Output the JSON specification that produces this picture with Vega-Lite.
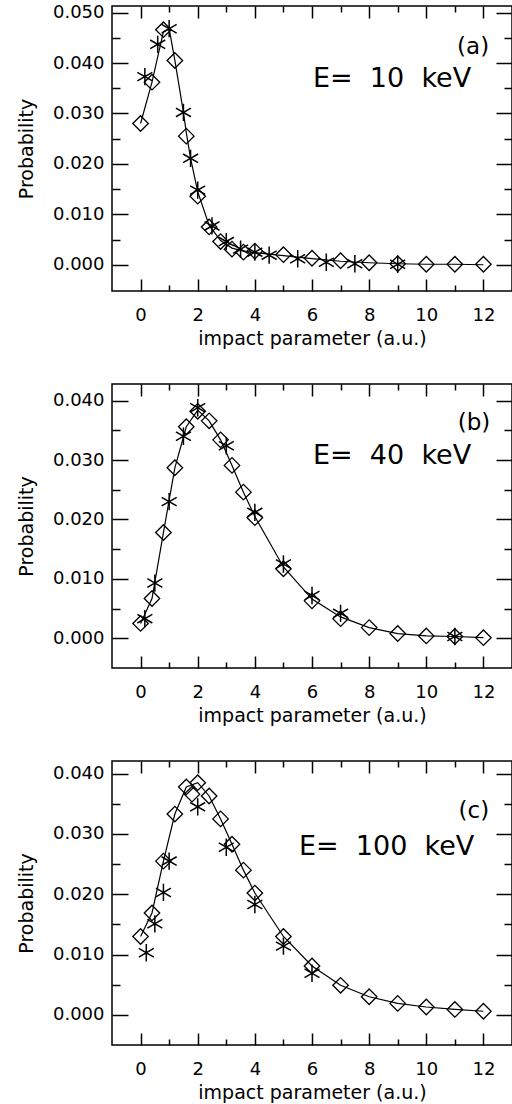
{
  "$schema": "https://vega.github.io/schema/vega-lite/v6.json",
  "background": "white",
  "padding": {"left": 16, "top": 2, "right": 0, "bottom": 0},
  "spacing": 33,
  "config": {
    "view": {"stroke": "black", "strokeWidth": 1.5},
    "font": "DejaVu Sans",
    "axis": {
      "grid": false, "domain": false, "ticks": true,
      "tickColor": "black", "tickWidth": 1.5,
      "labelColor": "black", "titleColor": "black",
      "labelFont": "DejaVu Sans", "titleFont": "DejaVu Sans",
      "labelFontSize": 18, "titleFontSize": 19, "titleFontWeight": "normal",
      "labelOverlap": false, "labelFlush": false
    },
    "text": {"font": "DejaVu Sans", "color": "black"}
  },
  "datasets": {
    "pts": [
      {"panel": "a", "series": "c", "b": 0, "p": 0.028},
      {"panel": "a", "series": "c", "b": 0.4, "p": 0.0362},
      {"panel": "a", "series": "c", "b": 0.8, "p": 0.0462},
      {"panel": "a", "series": "c", "b": 1.0, "p": 0.0468},
      {"panel": "a", "series": "c", "b": 1.2, "p": 0.0405},
      {"panel": "a", "series": "c", "b": 1.5, "p": 0.0302},
      {"panel": "a", "series": "c", "b": 1.6, "p": 0.0262},
      {"panel": "a", "series": "c", "b": 1.75, "p": 0.0211},
      {"panel": "a", "series": "c", "b": 2.0, "p": 0.0145},
      {"panel": "a", "series": "c", "b": 2.4, "p": 0.0078},
      {"panel": "a", "series": "c", "b": 2.8, "p": 0.0048},
      {"panel": "a", "series": "c", "b": 3.2, "p": 0.0033},
      {"panel": "a", "series": "c", "b": 3.6, "p": 0.0027},
      {"panel": "a", "series": "c", "b": 4.0, "p": 0.0024},
      {"panel": "a", "series": "c", "b": 5.0, "p": 0.0018},
      {"panel": "a", "series": "c", "b": 6.0, "p": 0.0012},
      {"panel": "a", "series": "c", "b": 7.0, "p": 0.0007},
      {"panel": "a", "series": "c", "b": 8.0, "p": 0.0004},
      {"panel": "a", "series": "c", "b": 9.0, "p": 0.0002},
      {"panel": "a", "series": "c", "b": 10.0, "p": 0.0001},
      {"panel": "a", "series": "c", "b": 11.0, "p": 0.0001},
      {"panel": "a", "series": "c", "b": 12.0, "p": 0.0},

      {"panel": "a", "series": "d", "b": 0, "p": 0.028},
      {"panel": "a", "series": "d", "b": 0.4, "p": 0.0362},
      {"panel": "a", "series": "d", "b": 0.8, "p": 0.0466},
      {"panel": "a", "series": "d", "b": 1.2, "p": 0.0405},
      {"panel": "a", "series": "d", "b": 1.6, "p": 0.0255},
      {"panel": "a", "series": "d", "b": 2.0, "p": 0.0136},
      {"panel": "a", "series": "d", "b": 2.4, "p": 0.0075},
      {"panel": "a", "series": "d", "b": 2.8, "p": 0.0046},
      {"panel": "a", "series": "d", "b": 3.2, "p": 0.0031},
      {"panel": "a", "series": "d", "b": 3.6, "p": 0.0025},
      {"panel": "a", "series": "d", "b": 4.0, "p": 0.0027},
      {"panel": "a", "series": "d", "b": 5.0, "p": 0.002},
      {"panel": "a", "series": "d", "b": 6.0, "p": 0.0013},
      {"panel": "a", "series": "d", "b": 7.0, "p": 0.0008},
      {"panel": "a", "series": "d", "b": 8.0, "p": 0.0004},
      {"panel": "a", "series": "d", "b": 9.0, "p": 0.0002},
      {"panel": "a", "series": "d", "b": 10.0, "p": 0.0001},
      {"panel": "a", "series": "d", "b": 11.0, "p": 0.0001},
      {"panel": "a", "series": "d", "b": 12.0, "p": 0.0001},

      {"panel": "a", "series": "s", "b": 0.15, "p": 0.0373},
      {"panel": "a", "series": "s", "b": 0.6, "p": 0.0437},
      {"panel": "a", "series": "s", "b": 1.0, "p": 0.0468},
      {"panel": "a", "series": "s", "b": 1.5, "p": 0.0302},
      {"panel": "a", "series": "s", "b": 1.75, "p": 0.0211},
      {"panel": "a", "series": "s", "b": 2.0, "p": 0.0148},
      {"panel": "a", "series": "s", "b": 2.5, "p": 0.0077},
      {"panel": "a", "series": "s", "b": 3.0, "p": 0.0046},
      {"panel": "a", "series": "s", "b": 3.5, "p": 0.0031},
      {"panel": "a", "series": "s", "b": 4.0, "p": 0.0025},
      {"panel": "a", "series": "s", "b": 4.5, "p": 0.0019},
      {"panel": "a", "series": "s", "b": 5.5, "p": 0.0012},
      {"panel": "a", "series": "s", "b": 6.5, "p": 0.0005},
      {"panel": "a", "series": "s", "b": 7.5, "p": 0.0002},
      {"panel": "a", "series": "s", "b": 9.0, "p": 0.0001},

      {"panel": "b", "series": "c", "b": 0, "p": 0.0025},
      {"panel": "b", "series": "c", "b": 0.4, "p": 0.0067},
      {"panel": "b", "series": "c", "b": 0.8, "p": 0.0178},
      {"panel": "b", "series": "c", "b": 1.2, "p": 0.0287},
      {"panel": "b", "series": "c", "b": 1.6, "p": 0.0356},
      {"panel": "b", "series": "c", "b": 2.0, "p": 0.0384},
      {"panel": "b", "series": "c", "b": 2.4, "p": 0.0366},
      {"panel": "b", "series": "c", "b": 2.8, "p": 0.0334},
      {"panel": "b", "series": "c", "b": 3.2, "p": 0.0291},
      {"panel": "b", "series": "c", "b": 3.6, "p": 0.0246},
      {"panel": "b", "series": "c", "b": 4.0, "p": 0.0205},
      {"panel": "b", "series": "c", "b": 5.0, "p": 0.012},
      {"panel": "b", "series": "c", "b": 6.0, "p": 0.0066},
      {"panel": "b", "series": "c", "b": 7.0, "p": 0.0036},
      {"panel": "b", "series": "c", "b": 8.0, "p": 0.0018},
      {"panel": "b", "series": "c", "b": 9.0, "p": 0.0008},
      {"panel": "b", "series": "c", "b": 10.0, "p": 0.0004},
      {"panel": "b", "series": "c", "b": 11.0, "p": 0.0003},
      {"panel": "b", "series": "c", "b": 12.0, "p": 0.0001},

      {"panel": "b", "series": "d", "b": 0, "p": 0.0025},
      {"panel": "b", "series": "d", "b": 0.4, "p": 0.0067},
      {"panel": "b", "series": "d", "b": 0.8, "p": 0.0178},
      {"panel": "b", "series": "d", "b": 1.2, "p": 0.0287},
      {"panel": "b", "series": "d", "b": 1.6, "p": 0.0356},
      {"panel": "b", "series": "d", "b": 2.0, "p": 0.0382},
      {"panel": "b", "series": "d", "b": 2.4, "p": 0.0366},
      {"panel": "b", "series": "d", "b": 2.8, "p": 0.0334},
      {"panel": "b", "series": "d", "b": 3.2, "p": 0.0291},
      {"panel": "b", "series": "d", "b": 3.6, "p": 0.0246},
      {"panel": "b", "series": "d", "b": 4.0, "p": 0.0203},
      {"panel": "b", "series": "d", "b": 5.0, "p": 0.0117},
      {"panel": "b", "series": "d", "b": 6.0, "p": 0.0063},
      {"panel": "b", "series": "d", "b": 7.0, "p": 0.0033},
      {"panel": "b", "series": "d", "b": 8.0, "p": 0.0018},
      {"panel": "b", "series": "d", "b": 9.0, "p": 0.0008},
      {"panel": "b", "series": "d", "b": 10.0, "p": 0.0004},
      {"panel": "b", "series": "d", "b": 11.0, "p": 0.0003},
      {"panel": "b", "series": "d", "b": 12.0, "p": 0.0001},

      {"panel": "b", "series": "s", "b": 0.15, "p": 0.0033},
      {"panel": "b", "series": "s", "b": 0.5, "p": 0.0093},
      {"panel": "b", "series": "s", "b": 1.0, "p": 0.023},
      {"panel": "b", "series": "s", "b": 1.5, "p": 0.034},
      {"panel": "b", "series": "s", "b": 2.0, "p": 0.0388},
      {"panel": "b", "series": "s", "b": 3.0, "p": 0.0324},
      {"panel": "b", "series": "s", "b": 4.0, "p": 0.0212},
      {"panel": "b", "series": "s", "b": 5.0, "p": 0.0125},
      {"panel": "b", "series": "s", "b": 6.0, "p": 0.0072},
      {"panel": "b", "series": "s", "b": 7.0, "p": 0.0042},
      {"panel": "b", "series": "s", "b": 11.0, "p": 0.0003},

      {"panel": "c", "series": "c", "b": 0, "p": 0.013},
      {"panel": "c", "series": "c", "b": 0.4, "p": 0.0169},
      {"panel": "c", "series": "c", "b": 0.8, "p": 0.0255},
      {"panel": "c", "series": "c", "b": 1.2, "p": 0.0333},
      {"panel": "c", "series": "c", "b": 1.6, "p": 0.0378},
      {"panel": "c", "series": "c", "b": 2.0, "p": 0.0385},
      {"panel": "c", "series": "c", "b": 2.4, "p": 0.0363},
      {"panel": "c", "series": "c", "b": 2.8, "p": 0.0325},
      {"panel": "c", "series": "c", "b": 3.2, "p": 0.0283},
      {"panel": "c", "series": "c", "b": 3.6, "p": 0.024},
      {"panel": "c", "series": "c", "b": 4.0, "p": 0.0202},
      {"panel": "c", "series": "c", "b": 5.0, "p": 0.013},
      {"panel": "c", "series": "c", "b": 6.0, "p": 0.0081},
      {"panel": "c", "series": "c", "b": 7.0, "p": 0.0049},
      {"panel": "c", "series": "c", "b": 8.0, "p": 0.003},
      {"panel": "c", "series": "c", "b": 9.0, "p": 0.0019},
      {"panel": "c", "series": "c", "b": 10.0, "p": 0.0013},
      {"panel": "c", "series": "c", "b": 11.0, "p": 0.0009},
      {"panel": "c", "series": "c", "b": 12.0, "p": 0.0006},

      {"panel": "c", "series": "d", "b": 0, "p": 0.013},
      {"panel": "c", "series": "d", "b": 0.4, "p": 0.0169},
      {"panel": "c", "series": "d", "b": 0.8, "p": 0.0255},
      {"panel": "c", "series": "d", "b": 1.2, "p": 0.0333},
      {"panel": "c", "series": "d", "b": 1.6, "p": 0.0378},
      {"panel": "c", "series": "d", "b": 1.8, "p": 0.0366},
      {"panel": "c", "series": "d", "b": 2.0, "p": 0.0385},
      {"panel": "c", "series": "d", "b": 2.4, "p": 0.0363},
      {"panel": "c", "series": "d", "b": 2.8, "p": 0.0325},
      {"panel": "c", "series": "d", "b": 3.2, "p": 0.0283},
      {"panel": "c", "series": "d", "b": 3.6, "p": 0.024},
      {"panel": "c", "series": "d", "b": 4.0, "p": 0.0202},
      {"panel": "c", "series": "d", "b": 5.0, "p": 0.013},
      {"panel": "c", "series": "d", "b": 6.0, "p": 0.0081},
      {"panel": "c", "series": "d", "b": 7.0, "p": 0.0049},
      {"panel": "c", "series": "d", "b": 8.0, "p": 0.003},
      {"panel": "c", "series": "d", "b": 9.0, "p": 0.0019},
      {"panel": "c", "series": "d", "b": 10.0, "p": 0.0013},
      {"panel": "c", "series": "d", "b": 11.0, "p": 0.0009},
      {"panel": "c", "series": "d", "b": 12.0, "p": 0.0006},

      {"panel": "c", "series": "s", "b": 0.2, "p": 0.0103},
      {"panel": "c", "series": "s", "b": 0.5, "p": 0.0151},
      {"panel": "c", "series": "s", "b": 0.8, "p": 0.0203},
      {"panel": "c", "series": "s", "b": 1.0, "p": 0.0255},
      {"panel": "c", "series": "s", "b": 2.0, "p": 0.0345},
      {"panel": "c", "series": "s", "b": 3.0, "p": 0.0278},
      {"panel": "c", "series": "s", "b": 4.0, "p": 0.0183},
      {"panel": "c", "series": "s", "b": 5.0, "p": 0.0114},
      {"panel": "c", "series": "s", "b": 6.0, "p": 0.0069}
    ],
    "txt": [
      {"panel": "a", "kind": "tag", "b": 12.2, "p": 0.0431, "label": "(a)"},
      {"panel": "a", "kind": "energy", "b": 11.57, "p": 0.0368, "label": "E=\u00a0\u00a010\u00a0\u00a0keV"},
      {"panel": "b", "kind": "tag", "b": 12.24, "p": 0.0362, "label": "(b)"},
      {"panel": "b", "kind": "energy", "b": 11.57, "p": 0.0306, "label": "E=\u00a0\u00a040\u00a0\u00a0keV"},
      {"panel": "c", "kind": "tag", "b": 12.2, "p": 0.0338, "label": "(c)"},
      {"panel": "c", "kind": "energy", "b": 11.68, "p": 0.0278, "label": "E=\u00a0\u00a0100\u00a0\u00a0keV"}
    ]
  },
  "vconcat": [
    {
      "width": 400, "height": 285,
      "resolve": {"axis": {"x": "independent", "y": "independent"}},
      "layer": [
        {
          "data": {"name": "pts"},
          "transform": [{"filter": "datum.panel == 'a' && datum.series == 'c'"}],
          "mark": {"type": "line", "color": "black", "strokeWidth": 1.2},
          "encoding": {
            "x": {"field": "b", "type": "quantitative", "scale": {"domain": [-1, 13], "nice": false, "zero": false},
                  "axis": {"orient": "bottom", "values": [0, 2, 4, 6, 8, 10, 12], "offset": -12, "tickSize": 12, "labelPadding": 15, "format": "d", "title": "impact parameter (a.u.)", "titlePadding": 5}},
            "y": {"field": "p", "type": "quantitative", "scale": {"domain": [-0.0052, 0.0513], "nice": false, "zero": false},
                  "axis": {"orient": "left", "values": [0, 0.01, 0.02, 0.03, 0.04, 0.05], "offset": -16, "tickSize": 16, "labelPadding": 8, "format": ".3f", "title": "Probability", "titlePadding": 16}}
          }
        },
        {
          "data": {"name": "pts"},
          "transform": [{"filter": "datum.panel == 'a' && datum.series == 'd'"}],
          "mark": {"type": "point", "shape": "M-1,0L0,-1L1,0L0,1Z", "filled": false, "stroke": "black", "strokeWidth": 1.3, "size": 240, "opacity": 1},
          "encoding": {
            "x": {"field": "b", "type": "quantitative", "scale": {"domain": [-1, 13], "nice": false, "zero": false},
                  "axis": {"orient": "bottom", "values": [1, 3, 5, 7, 9, 11], "offset": -6, "tickSize": 6, "labels": false, "title": null}},
            "y": {"field": "p", "type": "quantitative", "scale": {"domain": [-0.0052, 0.0513], "nice": false, "zero": false},
                  "axis": {"orient": "left", "values": [0.005, 0.015, 0.025, 0.035, 0.045], "offset": -8, "tickSize": 8, "labels": false, "title": null}}
          }
        },
        {
          "data": {"name": "pts"},
          "transform": [{"filter": "datum.panel == 'a' && datum.series == 's'"}],
          "mark": {"type": "point", "shape": "M0,-1L0,1M-0.866,-0.5L0.866,0.5M-0.866,0.5L0.866,-0.5", "filled": false, "stroke": "black", "strokeWidth": 1.5, "size": 300, "opacity": 1},
          "encoding": {
            "x": {"field": "b", "type": "quantitative", "scale": {"domain": [-1, 13], "nice": false, "zero": false},
                  "axis": {"orient": "top", "values": [0, 2, 4, 6, 8, 10, 12], "offset": -12, "tickSize": 12, "labels": false, "title": null}},
            "y": {"field": "p", "type": "quantitative", "scale": {"domain": [-0.0052, 0.0513], "nice": false, "zero": false},
                  "axis": {"orient": "right", "values": [0, 0.01, 0.02, 0.03, 0.04, 0.05], "offset": -16, "tickSize": 16, "labels": false, "title": null}}
          }
        },
        {
          "data": {"name": "txt"},
          "transform": [{"filter": "datum.panel == 'a' && datum.kind == 'tag'"}],
          "mark": {"type": "text", "align": "right", "baseline": "middle", "fontSize": 23, "color": "black"},
          "encoding": {
            "x": {"field": "b", "type": "quantitative", "scale": {"domain": [-1, 13], "nice": false, "zero": false},
                  "axis": {"orient": "top", "values": [1, 3, 5, 7, 9, 11], "offset": -6, "tickSize": 6, "labels": false, "title": null}},
            "y": {"field": "p", "type": "quantitative", "scale": {"domain": [-0.0052, 0.0513], "nice": false, "zero": false},
                  "axis": {"orient": "right", "values": [0.005, 0.015, 0.025, 0.035, 0.045], "offset": -8, "tickSize": 8, "labels": false, "title": null}},
            "text": {"field": "label"}
          }
        },
        {
          "data": {"name": "txt"},
          "transform": [{"filter": "datum.panel == 'a' && datum.kind == 'energy'"}],
          "mark": {"type": "text", "align": "right", "baseline": "middle", "fontSize": 27, "color": "black"},
          "encoding": {
            "x": {"field": "b", "type": "quantitative", "scale": {"domain": [-1, 13], "nice": false, "zero": false}, "axis": null},
            "y": {"field": "p", "type": "quantitative", "scale": {"domain": [-0.0052, 0.0513], "nice": false, "zero": false}, "axis": null},
            "text": {"field": "label"}
          }
        }
      ]
    },
    {
      "width": 400, "height": 284,
      "resolve": {"axis": {"x": "independent", "y": "independent"}},
      "layer": [
        {
          "data": {"name": "pts"},
          "transform": [{"filter": "datum.panel == 'b' && datum.series == 'c'"}],
          "mark": {"type": "line", "color": "black", "strokeWidth": 1.2},
          "encoding": {
            "x": {"field": "b", "type": "quantitative", "scale": {"domain": [-1, 13], "nice": false, "zero": false},
                  "axis": {"orient": "bottom", "values": [0, 2, 4, 6, 8, 10, 12], "offset": -12, "tickSize": 12, "labelPadding": 15, "format": "d", "title": "impact parameter (a.u.)", "titlePadding": 5}},
            "y": {"field": "p", "type": "quantitative", "scale": {"domain": [-0.005, 0.0428], "nice": false, "zero": false},
                  "axis": {"orient": "left", "values": [0, 0.01, 0.02, 0.03, 0.04], "offset": -16, "tickSize": 16, "labelPadding": 8, "format": ".3f", "title": "Probability", "titlePadding": 16}}
          }
        },
        {
          "data": {"name": "pts"},
          "transform": [{"filter": "datum.panel == 'b' && datum.series == 'd'"}],
          "mark": {"type": "point", "shape": "M-1,0L0,-1L1,0L0,1Z", "filled": false, "stroke": "black", "strokeWidth": 1.3, "size": 240, "opacity": 1},
          "encoding": {
            "x": {"field": "b", "type": "quantitative", "scale": {"domain": [-1, 13], "nice": false, "zero": false},
                  "axis": {"orient": "bottom", "values": [1, 3, 5, 7, 9, 11], "offset": -6, "tickSize": 6, "labels": false, "title": null}},
            "y": {"field": "p", "type": "quantitative", "scale": {"domain": [-0.005, 0.0428], "nice": false, "zero": false},
                  "axis": {"orient": "left", "values": [0.005, 0.015, 0.025, 0.035], "offset": -8, "tickSize": 8, "labels": false, "title": null}}
          }
        },
        {
          "data": {"name": "pts"},
          "transform": [{"filter": "datum.panel == 'b' && datum.series == 's'"}],
          "mark": {"type": "point", "shape": "M0,-1L0,1M-0.866,-0.5L0.866,0.5M-0.866,0.5L0.866,-0.5", "filled": false, "stroke": "black", "strokeWidth": 1.5, "size": 300, "opacity": 1},
          "encoding": {
            "x": {"field": "b", "type": "quantitative", "scale": {"domain": [-1, 13], "nice": false, "zero": false},
                  "axis": {"orient": "top", "values": [0, 2, 4, 6, 8, 10, 12], "offset": -12, "tickSize": 12, "labels": false, "title": null}},
            "y": {"field": "p", "type": "quantitative", "scale": {"domain": [-0.005, 0.0428], "nice": false, "zero": false},
                  "axis": {"orient": "right", "values": [0, 0.01, 0.02, 0.03, 0.04], "offset": -16, "tickSize": 16, "labels": false, "title": null}}
          }
        },
        {
          "data": {"name": "txt"},
          "transform": [{"filter": "datum.panel == 'b' && datum.kind == 'tag'"}],
          "mark": {"type": "text", "align": "right", "baseline": "middle", "fontSize": 23, "color": "black"},
          "encoding": {
            "x": {"field": "b", "type": "quantitative", "scale": {"domain": [-1, 13], "nice": false, "zero": false},
                  "axis": {"orient": "top", "values": [1, 3, 5, 7, 9, 11], "offset": -6, "tickSize": 6, "labels": false, "title": null}},
            "y": {"field": "p", "type": "quantitative", "scale": {"domain": [-0.005, 0.0428], "nice": false, "zero": false},
                  "axis": {"orient": "right", "values": [0.005, 0.015, 0.025, 0.035], "offset": -8, "tickSize": 8, "labels": false, "title": null}},
            "text": {"field": "label"}
          }
        },
        {
          "data": {"name": "txt"},
          "transform": [{"filter": "datum.panel == 'b' && datum.kind == 'energy'"}],
          "mark": {"type": "text", "align": "right", "baseline": "middle", "fontSize": 27, "color": "black"},
          "encoding": {
            "x": {"field": "b", "type": "quantitative", "scale": {"domain": [-1, 13], "nice": false, "zero": false}, "axis": null},
            "y": {"field": "p", "type": "quantitative", "scale": {"domain": [-0.005, 0.0428], "nice": false, "zero": false}, "axis": null},
            "text": {"field": "label"}
          }
        }
      ]
    },
    {
      "width": 400, "height": 284,
      "resolve": {"axis": {"x": "independent", "y": "independent"}},
      "layer": [
        {
          "data": {"name": "pts"},
          "transform": [{"filter": "datum.panel == 'c' && datum.series == 'c'"}],
          "mark": {"type": "line", "color": "black", "strokeWidth": 1.2},
          "encoding": {
            "x": {"field": "b", "type": "quantitative", "scale": {"domain": [-1, 13], "nice": false, "zero": false},
                  "axis": {"orient": "bottom", "values": [0, 2, 4, 6, 8, 10, 12], "offset": -12, "tickSize": 12, "labelPadding": 15, "format": "d", "title": "impact parameter (a.u.)", "titlePadding": 5}},
            "y": {"field": "p", "type": "quantitative", "scale": {"domain": [-0.005, 0.0421], "nice": false, "zero": false},
                  "axis": {"orient": "left", "values": [0, 0.01, 0.02, 0.03, 0.04], "offset": -16, "tickSize": 16, "labelPadding": 8, "format": ".3f", "title": "Probability", "titlePadding": 16}}
          }
        },
        {
          "data": {"name": "pts"},
          "transform": [{"filter": "datum.panel == 'c' && datum.series == 'd'"}],
          "mark": {"type": "point", "shape": "M-1,0L0,-1L1,0L0,1Z", "filled": false, "stroke": "black", "strokeWidth": 1.3, "size": 240, "opacity": 1},
          "encoding": {
            "x": {"field": "b", "type": "quantitative", "scale": {"domain": [-1, 13], "nice": false, "zero": false},
                  "axis": {"orient": "bottom", "values": [1, 3, 5, 7, 9, 11], "offset": -6, "tickSize": 6, "labels": false, "title": null}},
            "y": {"field": "p", "type": "quantitative", "scale": {"domain": [-0.005, 0.0421], "nice": false, "zero": false},
                  "axis": {"orient": "left", "values": [0.005, 0.015, 0.025, 0.035], "offset": -8, "tickSize": 8, "labels": false, "title": null}}
          }
        },
        {
          "data": {"name": "pts"},
          "transform": [{"filter": "datum.panel == 'c' && datum.series == 's'"}],
          "mark": {"type": "point", "shape": "M0,-1L0,1M-0.866,-0.5L0.866,0.5M-0.866,0.5L0.866,-0.5", "filled": false, "stroke": "black", "strokeWidth": 1.5, "size": 300, "opacity": 1},
          "encoding": {
            "x": {"field": "b", "type": "quantitative", "scale": {"domain": [-1, 13], "nice": false, "zero": false},
                  "axis": {"orient": "top", "values": [0, 2, 4, 6, 8, 10, 12], "offset": -12, "tickSize": 12, "labels": false, "title": null}},
            "y": {"field": "p", "type": "quantitative", "scale": {"domain": [-0.005, 0.0421], "nice": false, "zero": false},
                  "axis": {"orient": "right", "values": [0, 0.01, 0.02, 0.03, 0.04], "offset": -16, "tickSize": 16, "labels": false, "title": null}}
          }
        },
        {
          "data": {"name": "txt"},
          "transform": [{"filter": "datum.panel == 'c' && datum.kind == 'tag'"}],
          "mark": {"type": "text", "align": "right", "baseline": "middle", "fontSize": 23, "color": "black"},
          "encoding": {
            "x": {"field": "b", "type": "quantitative", "scale": {"domain": [-1, 13], "nice": false, "zero": false},
                  "axis": {"orient": "top", "values": [1, 3, 5, 7, 9, 11], "offset": -6, "tickSize": 6, "labels": false, "title": null}},
            "y": {"field": "p", "type": "quantitative", "scale": {"domain": [-0.005, 0.0421], "nice": false, "zero": false},
                  "axis": {"orient": "right", "values": [0.005, 0.015, 0.025, 0.035], "offset": -8, "tickSize": 8, "labels": false, "title": null}},
            "text": {"field": "label"}
          }
        },
        {
          "data": {"name": "txt"},
          "transform": [{"filter": "datum.panel == 'c' && datum.kind == 'energy'"}],
          "mark": {"type": "text", "align": "right", "baseline": "middle", "fontSize": 27, "color": "black"},
          "encoding": {
            "x": {"field": "b", "type": "quantitative", "scale": {"domain": [-1, 13], "nice": false, "zero": false}, "axis": null},
            "y": {"field": "p", "type": "quantitative", "scale": {"domain": [-0.005, 0.0421], "nice": false, "zero": false}, "axis": null},
            "text": {"field": "label"}
          }
        }
      ]
    }
  ]
}
